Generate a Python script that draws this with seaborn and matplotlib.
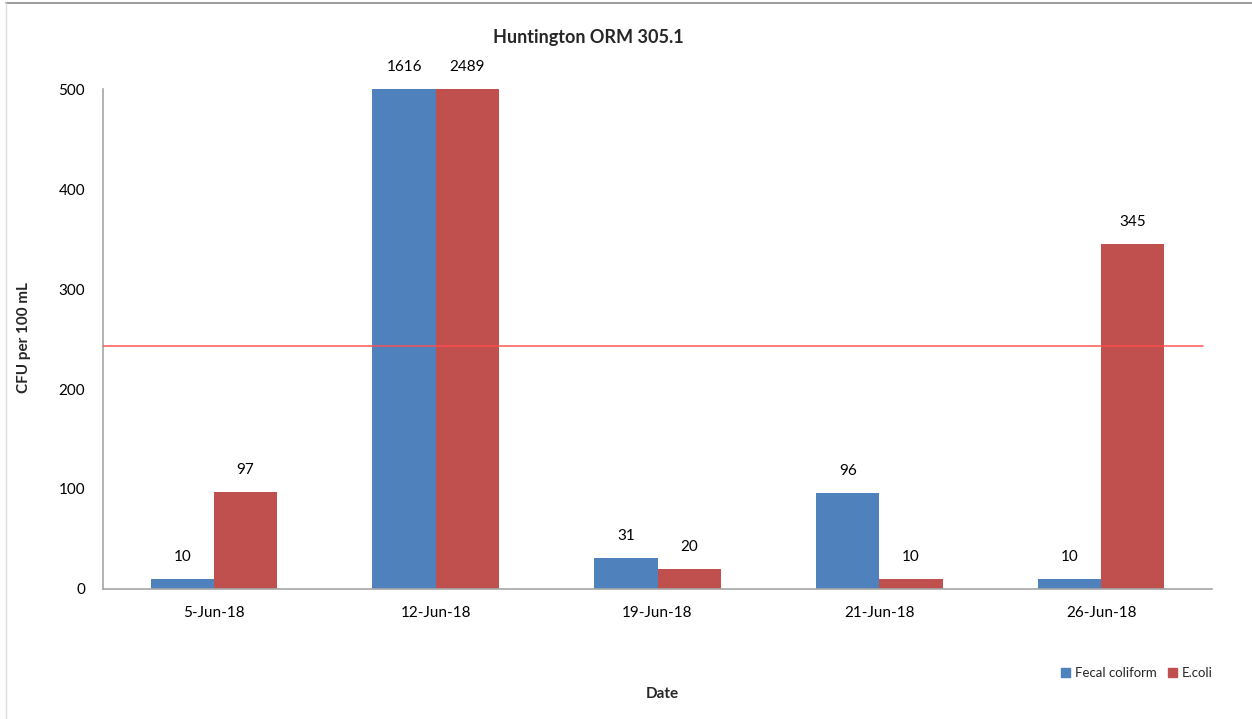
import matplotlib
matplotlib.use('Agg')
import matplotlib.pyplot as plt
import seaborn as sns
import pandas as pd
import numpy as np

dates = ['5-Jun-18', '12-Jun-18', '19-Jun-18', '21-Jun-18', '26-Jun-18']
fecal = [10, 1616, 31, 96, 10]
ecoli = [97, 2489, 20, 10, 345]
threshold = 243.5
ymax = 500

df = pd.DataFrame({
    'Date': dates * 2,
    'CFU': fecal + ecoli,
    'Series': ['Fecal coliform'] * len(dates) + ['E.coli'] * len(dates),
})

sns.set_style('white')
plt.rcParams['font.family'] = ['Lato', 'DejaVu Sans']

fig = plt.figure(figsize=(12.52, 7.19), dpi=100)
ax = fig.add_axes([103 / 1252, 130 / 719, 1109 / 1252, 500 / 719])

sns.barplot(data=df, x='Date', y='CFU', hue='Series', order=dates,
            palette=['#4F81BD', '#C0504D'], width=0.57, saturation=1,
            linewidth=0, ax=ax, legend=False)

ax.set_ylim(0, ymax)
ax.set_xlim(-0.5, len(dates) - 0.5)
ax.set_yticks(range(0, ymax + 1, 100))

# value labels (bars taller than the axis are clipped, label keeps the real value)
for cont, vals in zip(ax.containers, [fecal, ecoli]):
    for bar, v in zip(cont, vals):
        xc = bar.get_x() + bar.get_width() / 2
        ax.annotate(str(v), (xc, min(v, ymax)), xytext=(0, 16),
                    textcoords='offset points', ha='center', va='center',
                    fontsize=11, color='#000000', annotation_clip=False)

ax.axhline(threshold, xmin=0, xmax=0.992, color='#ff4d4d', lw=1.3, alpha=0.8, zorder=5)

for s in ['top', 'right']:
    ax.spines[s].set_visible(False)
for s in ['left', 'bottom']:
    ax.spines[s].set_color('#a6a6a6')
    ax.spines[s].set_linewidth(1.2)

ax.set_xticks(np.arange(-0.5, len(dates)), minor=True)
ax.tick_params(axis='x', which='major', length=0, labelsize=11, pad=12, colors='#000000')
ax.tick_params(axis='x', which='minor', length=11, direction='inout', color='#8c8c8c', width=1.2)
ax.tick_params(axis='y', which='major', length=10, direction='inout', color='#8c8c8c',
               width=1.2, labelsize=11, pad=8, labelcolor='#000000')
ax.set_xlabel('')
ax.set_ylabel('')

fig.text(588 / 1252, 1 - 37 / 719, 'Huntington ORM 305.1', ha='center', va='center',
         fontsize=13, fontweight='bold')
fig.text(662 / 1252, 1 - 694 / 719, 'Date', ha='center', va='center',
         fontsize=11, fontweight='bold')
fig.text(24 / 1252, 1 - 338 / 719, 'CFU per 100 mL', ha='center', va='center',
         rotation=90, fontsize=11, fontweight='bold')

handles = [plt.Rectangle((0, 0), 1, 1, color=c) for c in ['#4F81BD', '#C0504D']]
fig.legend(handles, ['Fecal coliform', 'E.coli'], loc='center',
           bbox_to_anchor=(1137 / 1252, 1 - 673 / 719), ncol=2, frameon=False,
           fontsize=9.5, handlelength=0.7, handleheight=0.7, handletextpad=0.4,
           columnspacing=0.8)

# chart frame edges
fig.add_artist(plt.Line2D([6 / 1252, 1], [1 - 2.5 / 719] * 2, color='#8a8a8a', lw=1.2))
fig.add_artist(plt.Line2D([6 / 1252] * 2, [0, 1 - 2.5 / 719], color='#dcdcdc', lw=1))

fig.savefig('out.png', dpi=100)
